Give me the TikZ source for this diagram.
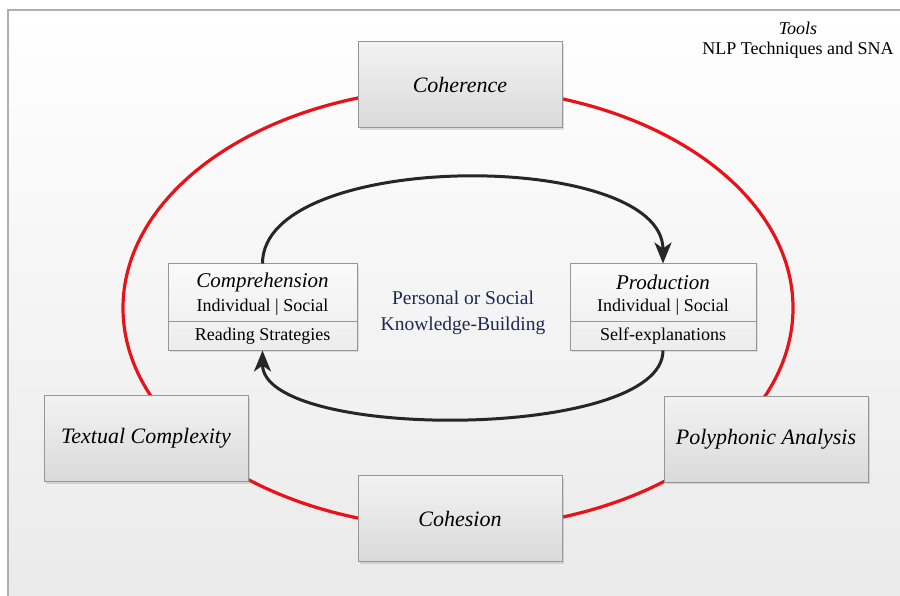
\documentclass[tikz,border=0pt]{standalone}
\usepackage{fontspec}
\setmainfont{Liberation Serif}
\usetikzlibrary{arrows.meta,shadows}
\definecolor{framegray}{RGB}{175,175,175}
\definecolor{boxborder}{RGB}{150,150,150}
\definecolor{ringred}{RGB}{232,18,24}
\definecolor{arrowblack}{RGB}{38,38,38}
\definecolor{navytext}{RGB}{30,40,85}
\definecolor{bgbottom}{RGB}{234,234,234}
\definecolor{boxtop}{RGB}{242,242,242}
\definecolor{boxbottom}{RGB}{218,218,218}
\definecolor{ctop}{RGB}{250,250,250}
\definecolor{cbottom}{RGB}{236,236,236}
\tikzset{
  bigbox/.style={draw=boxborder, line width=1pt, top color=boxtop, bottom color=boxbottom,
    minimum width=204pt, minimum height=86pt, inner sep=0pt,
    drop shadow={shadow xshift=2pt, shadow yshift=-2pt, opacity=0.25},
    font=\fontsize{22}{26}\selectfont\itshape},
  pbox/.style={draw=boxborder, line width=1pt, top color=ctop, bottom color=cbottom,
    minimum height=86pt, inner sep=0pt,
    drop shadow={shadow xshift=2pt, shadow yshift=-2pt, opacity=0.2}},
  ptitle/.style={inner sep=0pt, font=\fontsize{21}{24}\selectfont\itshape},
  ptext/.style={inner sep=0pt, font=\fontsize{18}{21}\selectfont},
  ring/.style={draw=ringred, line width=3.2pt},
  cycle/.style={draw=arrowblack, line width=3pt, -{Stealth[length=21pt,width=17pt,inset=6pt]}},
}
\begin{document}
\begin{tikzpicture}[x=1pt,y=-1pt]
\useasboundingbox (0,0) rectangle (900,596);
% background frame
\shade[top color=white, bottom color=bgbottom] (8,10) rectangle (900,596);
\draw[framegray, line width=1.5pt] (8,596) -- (8,10) -- (900,10);
% red ring
\draw[ring] (458,308) ellipse [x radius=335, y radius=220];
% outer boxes
\node[bigbox] (coh) at (460,85) {Coherence};
\node[bigbox] (cohes) at (460,518.5) {Cohesion};
\node[bigbox] (tex) at (146,438.5) {Textual Complexity};
\node[bigbox] (poly) at (766,439) {Polyphonic Analysis};
% process boxes
\node[pbox, minimum width=189pt] (comp) at (262.5,307) {};
\node[pbox, minimum width=186pt] (prod) at (663,307) {};
\draw[boxborder, line width=1pt] (comp.west |- 0,321) -- (comp.east |- 0,321);
\draw[boxborder, line width=1pt] (prod.west |- 0,321) -- (prod.east |- 0,321);
\node[ptitle] (comptitle) at (262.5,282) {Comprehension};
\node[ptext] (compsub) at (262.5,307) {Individual | Social};
\node[ptext] (compfoot) at (262.5,336) {Reading Strategies};
\node[ptitle] (prodtitle) at (663,282) {Production};
\node[ptext] (prodsub) at (663,307) {Individual | Social};
\node[ptext] (prodfoot) at (663,336) {Self-explanations};
% centre text
\node[inner sep=0pt, text=navytext, font=\fontsize{19.5}{26}\selectfont, align=center] (kb) at (463,313) {Personal or Social\\Knowledge-Building};
% cycle arrows
\draw[cycle] (comp.north) .. controls (262.5,149) and (663,149) .. (prod.north);
\draw[cycle] (prod.south) .. controls (663,441) and (262.5,441) .. (comp.south);
% tools
\node[inner sep=0pt, font=\fontsize{18}{21}\selectfont\itshape] (tools) at (798,28) {Tools};
\node[inner sep=0pt, font=\fontsize{18}{21}\selectfont] (nlp) at (798,50) {NLP Techniques and SNA};
\end{tikzpicture}
\end{document}
